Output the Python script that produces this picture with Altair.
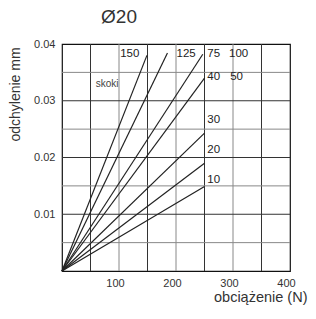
import altair as alt
import pandas as pd

# series: each line runs from origin to its end point
series = ["150", "125", "75/100", "40/50", "30", "20", "10"]
end_load = [149, 185, 247, 250, 250, 250, 250]
end_defl = [0.0380, 0.0384, 0.0382, 0.0340, 0.0243, 0.0190, 0.0149]

# text labels placed on the chart (data coordinates)
label_text = ["150", "125", "75", "100", "40", "50", "30", "20", "10"]
label_x = [102, 201, 255, 293, 255, 295, 255, 255, 255]
label_y = [0.0382, 0.0382, 0.0382, 0.0382, 0.0341, 0.0341, 0.0266, 0.0213, 0.0161]
note_text = ["skoki"]
note_x = [59]
note_y = [0.0329]

x_ticks = [100, 200, 300, 400]
y_ticks = [0.01, 0.02, 0.03, 0.04]
x_grid_dark = [50, 150, 250, 350]
x_grid_light = [100, 200, 300]
y_grid_dark = [0.01, 0.02, 0.03]
y_grid_light = [0.005, 0.015, 0.025, 0.035]

rows = []
for s, ex, ey in zip(series, end_load, end_defl):
    rows.append({"s": s, "x": 0, "y": 0.0, "o": 0})
    rows.append({"s": s, "x": ex, "y": ey, "o": 1})
lines_df = pd.DataFrame(rows)

FONT = "Liberation Sans"
xs = alt.Scale(domain=[0, 400], nice=False)
ys = alt.Scale(domain=[0, 0.04], nice=False)

x_axis = alt.Axis(
    values=x_ticks, grid=False, ticks=False, tickSize=0, domain=False, labelFlush=False,
    labelPadding=6, labelOffset=-4, labelFont=FONT, labelFontSize=11, labelColor="#333",
    title="obciążenie (N)", titleFont=FONT, titleFontSize=14.5, titleFontWeight="normal",
    titleColor="#333", titleAlign="right", titleX=245, titleY=26, titleBaseline="middle")
y_axis = alt.Axis(
    values=y_ticks, grid=False, ticks=False, tickSize=0, domain=False, format=".2f",
    labelFlush=False,
    labelPadding=7, labelFont=FONT, labelFontSize=11, labelColor="#333",
    title="odchylenie mm", titleFont=FONT, titleFontSize=14, titleFontWeight="normal",
    titleColor="#333", titleX=-47, titleY=50, titleAlign="center", titleBaseline="middle")

def vgrid(vals, color):
    return alt.Chart(pd.DataFrame({"x": vals})).mark_rule(color=color, strokeWidth=1).encode(
        x=alt.X("x:Q", scale=xs, axis=x_axis))

def hgrid(vals, color):
    return alt.Chart(pd.DataFrame({"y": vals})).mark_rule(color=color, strokeWidth=1).encode(
        y=alt.Y("y:Q", scale=ys, axis=y_axis))

lines = alt.Chart(lines_df).mark_line(color="#222", strokeWidth=1.2).encode(
    x=alt.X("x:Q", scale=xs, axis=x_axis),
    y=alt.Y("y:Q", scale=ys, axis=y_axis),
    detail="s:N",
    order="o:Q",
)

labels = alt.Chart(pd.DataFrame({"t": label_text, "x": label_x, "y": label_y})).mark_text(
    align="left", baseline="middle", font=FONT, fontSize=11.5, color="#222").encode(
    x=alt.X("x:Q", scale=xs, axis=x_axis), y=alt.Y("y:Q", scale=ys, axis=y_axis), text="t:N")

notes = alt.Chart(pd.DataFrame({"t": note_text, "x": note_x, "y": note_y})).mark_text(
    align="left", baseline="middle", font=FONT, fontSize=10, color="#444").encode(
    x=alt.X("x:Q", scale=xs, axis=x_axis), y=alt.Y("y:Q", scale=ys, axis=y_axis), text="t:N")

chart = alt.layer(
    vgrid(x_grid_light, "#888"), vgrid(x_grid_dark, "#333"),
    hgrid(y_grid_light, "#888"), hgrid(y_grid_dark, "#333"),
    lines, labels, notes,
).properties(
    width=228, height=227,
    autosize=alt.AutoSizeParams(type="none"),
    padding={"left": 54, "top": 36, "right": 18, "bottom": 34},
    title=alt.TitleParams(text="Ø20", font=FONT, fontSize=19, fontWeight="normal",
                          color="#333", anchor="middle", dx=-57, offset=11),
).configure_view(stroke="#111", strokeWidth=1.2)

chart.save("out.html", embed_options={"renderer": "svg", "actions": False})
